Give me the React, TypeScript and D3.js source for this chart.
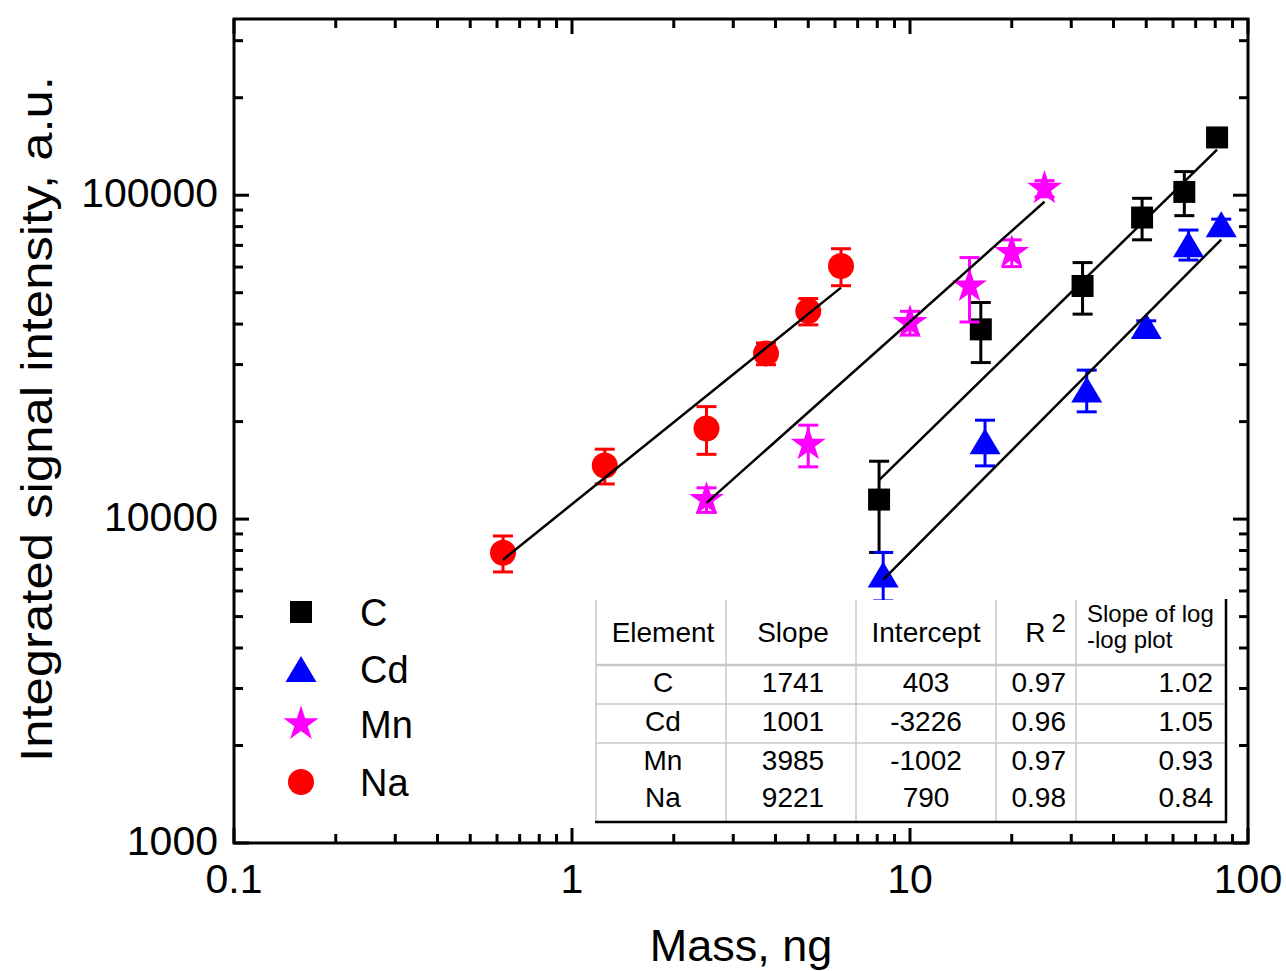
import React from "react";
import * as d3 from "d3";

const W = 1286;
const H = 971;

// Series: mass (ng), integrated signal (a.u.), error (a.u.)
const elements = ["C", "Cd", "Mn", "Na"];
const colors = ["#000000", "#0000ff", "#ff00ff", "#ff0000"];

const cMass = [8.1, 16.2, 32.4, 48.6, 64.8, 81];
const cSignal = [11490, 38530, 52440, 85330, 102380, 150800];
const cError = [3600, 8100, 9500, 12500, 15900, 8000];

const cdMass = [8.33, 16.67, 33.33, 50, 66.67, 83.33];
const cdSignal = [6740, 17400, 25140, 39450, 70570, 81360];
const cdError = [1150, 2800, 3700, 1500, 7500, 3000];

const mnMass = [2.5, 5, 10, 15, 20, 25];
const mnSignal = [11490, 17000, 40400, 52400, 66500, 104900];
const mnError = [1000, 2500, 3400, 11800, 6300, 6000];

const naMass = [0.625, 1.25, 2.5, 3.75, 5, 6.25];
const naSignal = [7870, 14640, 19050, 32480, 43880, 60460];
const naError = [1000, 1800, 3200, 2500, 4100, 7900];

// Fit table
const tableSlope = ["1741", "1001", "3985", "9221"];
const tableIntercept = ["403", "-3226", "-1002", "790"];
const tableR2 = ["0.97", "0.96", "0.97", "0.98"];
const tableLogSlope = [1.02, 1.05, 0.93, 0.84];
// power-law prefactor of each log-log fit line
const fitPrefactor = [1563, 702, 4785, 11123];

const xTickLabels = ["0.1", "1", "10", "100"];
const yTickLabels = ["1000", "10000", "100000"];

const FONT = "'Liberation Sans', Arial, Helvetica, sans-serif";

const series = [
  { mass: cMass, signal: cSignal, error: cError },
  { mass: cdMass, signal: cdSignal, error: cdError },
  { mass: mnMass, signal: mnSignal, error: mnError },
  { mass: naMass, signal: naSignal, error: naError },
].map((s, i) => ({
  ...s,
  name: elements[i],
  color: colors[i],
  logSlope: tableLogSlope[i],
  prefactor: fitPrefactor[i],
}));

const left = 234;
const right = 1248;
const top = 19;
const bottom = 843;

const x = d3.scaleLog().domain([0.1, 100]).range([left, right]);
const y = d3.scaleLog().domain([1000, 350000]).range([bottom, top]);

const squarePath = d3.symbol(d3.symbolSquare, 484)()!;
const circlePath = d3.symbol(d3.symbolCircle, Math.PI * 13 * 13)()!;
const starPath = d3.symbol(d3.symbolStar, 380)()!;
const trianglePath = "M0,-13L15.5,13L-15.5,13Z";
const markerPaths = [squarePath, trianglePath, starPath, circlePath];

const lineGen = d3
  .line<[number, number]>()
  .x((d) => x(d[0]))
  .y((d) => y(d[1]));

function isMajor(v: number) {
  const l = Math.log10(v);
  return Math.abs(l - Math.round(l)) < 1e-9;
}

export default function App() {
  const xTicks = x.ticks();
  const yTicks = y.ticks();
  const xMajor = xTicks.filter(isMajor);
  const yMajor = yTicks.filter(isMajor);
  const MAJ = 15;
  const MIN = 9;

  // table geometry
  const tL = 596, tR = 1226, tT = 600, tB = 822;
  const rowLines = [665, 704, 743];
  const colLines = [726, 856, 996, 1076];
  const rowBase = [692, 731, 770, 807];

  return (
    <div style={{ position: "absolute", left: 0, top: 0 }}>
      <svg width={W} height={H} style={{ display: "block", background: "#fff" }} fontFamily={FONT}>
        <rect x={0} y={0} width={W} height={H} fill="#fff" />

        {/* ticks, inward on all four sides */}
        <g stroke="#000" strokeWidth={3}>
          {xTicks.map((t, i) => {
            const len = isMajor(t) ? MAJ : MIN;
            const px = x(t);
            return (
              <g key={"xt" + i}>
                <line x1={px} x2={px} y1={bottom} y2={bottom - len} />
                <line x1={px} x2={px} y1={top} y2={top + len} />
              </g>
            );
          })}
          {yTicks.map((t, i) => {
            const len = isMajor(t) ? MAJ : MIN;
            const py = y(t);
            return (
              <g key={"yt" + i}>
                <line x1={left} x2={left + len} y1={py} y2={py} />
                <line x1={right} x2={right - len} y1={py} y2={py} />
              </g>
            );
          })}
        </g>
        <rect x={left} y={top} width={right - left} height={bottom - top} fill="none" stroke="#000" strokeWidth={3} />

        {/* tick labels */}
        <g fontSize={41} fill="#000">
          {xMajor.map((t, i) => (
            <text key={"xl" + i} x={x(t)} y={893} textAnchor="middle">
              {xTickLabels[i]}
            </text>
          ))}
          {yMajor.map((t, i) => (
            <text key={"yl" + i} x={218} y={y(t) + 12} textAnchor="end">
              {yTickLabels[i]}
            </text>
          ))}
        </g>

        {/* axis titles */}
        <text x={741} y={961} fontSize={45} textAnchor="middle">
          Mass, ng
        </text>
        <text
          transform={`translate(52, 419) rotate(-90)`}
          fontSize={45}
          textAnchor="middle"
          textLength={686}
          lengthAdjust="spacingAndGlyphs"
        >
          Integrated signal intensity, a.u.
        </text>

        {/* data */}
        {series.map((s, si) => (
          <g key={"s" + si}>
            {s.mass.map((m, i) => (
              <path key={"m" + i} d={markerPaths[si]} transform={`translate(${x(m)},${y(s.signal[i])})`} fill={s.color} />
            ))}
            <g stroke={s.color} strokeWidth={3}>
              {s.mass.map((m, i) => {
                const px = x(m);
                const y1 = y(s.signal[i] + s.error[i]);
                const y2 = y(s.signal[i] - s.error[i]);
                return (
                  <g key={"e" + i}>
                    <line x1={px} x2={px} y1={y1} y2={y2} />
                    <line x1={px - 10} x2={px + 10} y1={y1} y2={y1} />
                    <line x1={px - 10} x2={px + 10} y1={y2} y2={y2} />
                  </g>
                );
              })}
            </g>
          </g>
        ))}
        {series.map((s, si) => {
          const x0 = d3.min(s.mass)!;
          const x1 = d3.max(s.mass)!;
          const pts: [number, number][] = [x0, x1].map((m) => [m, s.prefactor * Math.pow(m, s.logSlope)]);
          return <path key={"f" + si} d={lineGen(pts)!} fill="none" stroke="#000" strokeWidth={2.5} />;
        })}

        {/* legend */}
        {series.map((s, si) => {
          const ly = [612, 669, 724, 782][si];
          return (
            <g key={"lg" + si}>
              <path d={markerPaths[si]} transform={`translate(301,${ly})`} fill={s.color} />
              <text x={360} y={ly + 14} fontSize={38}>
                {s.name}
              </text>
            </g>
          );
        })}

        {/* fit table */}
        <g>
          <rect x={tL} y={tT} width={tR - tL} height={tB - tT} fill="#fff" />
          <g stroke="#c8c8c8" strokeWidth={1.5}>
            <line x1={tL} x2={tL} y1={tT} y2={tB} />
            {colLines.map((cx, i) => (
              <line key={"cl" + i} x1={cx} x2={cx} y1={tT} y2={tB} />
            ))}
            {rowLines.map((ry, i) => (
              <line key={"rl" + i} x1={tL} x2={tR} y1={ry} y2={ry} strokeWidth={i === 0 ? 2.5 : 1.5} />
            ))}
          </g>
          <g stroke="#000" strokeWidth={2.5}>
            <line x1={tR} x2={tR} y1={tT - 1} y2={tB + 1} />
            <line x1={tL - 1} x2={tR + 1} y1={tB} y2={tB} />
          </g>
          <g fontSize={28} fill="#000">
            <text x={663} y={642} textAnchor="middle">Element</text>
            <text x={793} y={642} textAnchor="middle">Slope</text>
            <text x={926} y={642} textAnchor="middle">Intercept</text>
            <text x={1066} y={642} textAnchor="end">
              R<tspan fontSize={26} dy={-10} dx={6}>2</tspan>
            </text>
            <text x={1087} y={622} fontSize={24}>Slope of log</text>
            <text x={1087} y={648} fontSize={24}>-log plot</text>
            {elements.map((el, i) => (
              <g key={"row" + i}>
                <text x={663} y={rowBase[i]} textAnchor="middle">{el}</text>
                <text x={793} y={rowBase[i]} textAnchor="middle">{tableSlope[i]}</text>
                <text x={926} y={rowBase[i]} textAnchor="middle">{tableIntercept[i]}</text>
                <text x={1066} y={rowBase[i]} textAnchor="end">{tableR2[i]}</text>
                <text x={1213} y={rowBase[i]} textAnchor="end">{tableLogSlope[i].toFixed(2)}</text>
              </g>
            ))}
          </g>
        </g>
      </svg>
    </div>
  );
}
